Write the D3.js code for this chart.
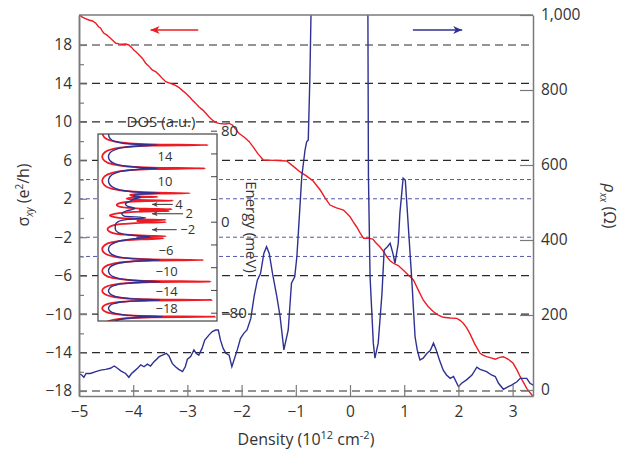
<!DOCTYPE html>
<html lang="en">

<head>
    <meta charset="UTF-8">
    <title>Hall conductivity and resistivity vs density</title>
    <style>
        body {
            margin: 0;
            background: #fff;
        }

        svg text {
            font-family: "Open Sans", sans-serif;
            fill: #333;
        }
    </style>
</head>

<body>
    <div id="chart"></div>

    <script src="https://d3js.org/d3.v7.min.js"></script>
    <script>

        // ---- main panel data ----
        var densityTicks = [-5, -4, -3, -2, -1, 0, 1, 2, 3]
        var sigmaTicks = [18, 14, 10, 6, 2, -2, -6, -10, -14, -18]
        var sigmaMinor = [16, 12, 8, 4, 0, -4, -8, -12, -16]
        var sigmaDashed = [18, 14, 10, 6, -6, -10, -14, -18]
        var sigmaDotted = [4, 2, -2, -4]
        var rhoTicks = [0, 200, 400, 600, 800, 1000]

        // sigma_xy (e^2/h) vs density (10^12 cm^-2)
        var sigmaCurve = [
            [-5.00, 21.2], [-4.94, 20.9], [-4.88, 20.75], [-4.82, 20.6], [-4.75, 20.5], [-4.69, 20.26],
            [-4.64, 19.9], [-4.60, 19.74], [-4.57, 19.45], [-4.54, 19.22], [-4.49, 19.05], [-4.45, 18.86],
            [-4.38, 18.5], [-4.32, 18.18], [-4.26, 18.12], [-4.20, 18.07], [-4.14, 18.1], [-4.08, 18.0],
            [-4.03, 17.75], [-3.99, 17.48], [-3.94, 17.25], [-3.89, 16.96], [-3.83, 16.6], [-3.77, 16.10],
            [-3.71, 15.8], [-3.65, 15.40], [-3.58, 15.2], [-3.52, 14.88], [-3.46, 14.5], [-3.40, 14.18],
            [-3.34, 14.05], [-3.28, 13.94], [-3.22, 13.8], [-3.16, 13.60], [-3.09, 13.25], [-3.03, 12.97],
            [-2.97, 12.65], [-2.91, 12.28], [-2.85, 11.95], [-2.79, 11.58], [-2.72, 11.25], [-2.66, 10.89],
            [-2.60, 10.5], [-2.54, 10.20], [-2.48, 9.95], [-2.42, 9.85], [-2.35, 9.8], [-2.29, 9.78],
            [-2.23, 9.84], [-2.17, 9.68], [-2.11, 9.25], [-2.05, 8.81], [-1.95, 8.4], [-1.86, 7.94],
            [-1.79, 7.42], [-1.70, 6.7], [-1.60, 6.03], [-1.40, 6.0], [-1.17, 5.93], [-1.05, 5.4],
            [-0.92, 4.79], [-0.80, 4.35], [-0.68, 3.85], [-0.55, 2.91], [-0.46, 2.1], [-0.37, 1.35],
            [-0.25, 1.05], [-0.12, 0.83], [0.00, 0.14], [0.06, -0.4], [0.12, -0.91], [0.18, -1.5],
            [0.25, -2.11], [0.33, -2.1], [0.42, -2.19], [0.48, -2.6], [0.55, -2.99], [0.62, -3.5],
            [0.68, -4.03], [0.74, -4.45], [0.80, -4.71], [0.89, -4.95], [0.98, -5.41], [1.07, -5.9],
            [1.17, -6.45], [1.26, -7.5], [1.35, -8.53], [1.44, -9.2], [1.54, -9.75], [1.63, -10.1],
            [1.72, -10.33], [1.85, -10.4], [1.97, -10.44], [2.03, -10.65], [2.09, -10.96], [2.15, -11.4],
            [2.21, -12.0], [2.30, -13.1], [2.40, -14.08], [2.46, -14.3], [2.52, -14.43], [2.60, -14.55],
            [2.68, -14.70], [2.76, -14.5], [2.83, -14.43], [2.92, -14.7], [3.01, -15.12], [3.08, -15.8],
            [3.14, -16.51], [3.20, -17.1], [3.26, -17.72], [3.38, -18.6]
        ]

        // rho_xx (Ohm) vs density
        var rhoCurve = [
            [-5.00, 44], [-4.95, 40], [-4.91, 34], [-4.87, 44], [-4.79, 44], [-4.69, 49], [-4.60, 53],
            [-4.51, 55], [-4.42, 58], [-4.35, 64], [-4.29, 58], [-4.23, 51], [-4.14, 44], [-4.08, 34],
            [-4.03, 44], [-3.99, 49], [-3.92, 58], [-3.86, 67], [-3.80, 62], [-3.74, 69], [-3.68, 64],
            [-3.62, 75], [-3.52, 89], [-3.46, 93], [-3.39, 98], [-3.34, 91], [-3.28, 71], [-3.22, 62],
            [-3.16, 55], [-3.09, 49], [-3.04, 62], [-3.00, 82], [-2.94, 89], [-2.88, 107], [-2.84, 98],
            [-2.79, 93], [-2.73, 111], [-2.68, 133], [-2.60, 147], [-2.54, 156], [-2.48, 160], [-2.43, 160],
            [-2.39, 133], [-2.34, 111], [-2.29, 98], [-2.23, 93], [-2.18, 62], [-2.14, 80], [-2.08, 107],
            [-2.02, 138], [-1.96, 151], [-1.90, 160], [-1.83, 191], [-1.77, 249], [-1.71, 293], [-1.65, 311],
            [-1.59, 364], [-1.54, 382], [-1.49, 364], [-1.43, 311], [-1.35, 249], [-1.29, 196], [-1.22, 107],
            [-1.14, 160], [-1.08, 285], [-1.02, 302], [-0.98, 356], [-0.89, 569], [-0.83, 640], [-0.80, 662],
            [-0.77, 667], [-0.74, 836], [-0.72, 1000], [-0.70, 1150], [0.31, 1150], [0.33, 1000], [0.34, 569],
            [0.37, 302], [0.43, 125], [0.46, 85], [0.52, 125], [0.59, 258], [0.63, 373], [0.69, 382],
            [0.74, 391], [0.79, 365], [0.83, 338], [0.89, 391], [0.92, 471], [0.98, 565], [1.02, 560],
            [1.08, 427], [1.14, 293], [1.20, 142], [1.24, 107], [1.29, 80], [1.35, 85], [1.42, 98],
            [1.48, 105], [1.54, 125], [1.59, 107], [1.65, 80], [1.72, 53], [1.78, 40], [1.85, 31],
            [1.91, 36], [2.00, 9], [2.06, 18], [2.15, 27], [2.25, 40], [2.34, 61], [2.40, 55], [2.52, 49],
            [2.61, 40], [2.68, 36], [2.74, 18], [2.83, 2], [2.92, 9], [2.98, 13], [3.08, 22], [3.14, 31],
            [3.26, 31], [3.32, 18], [3.38, 13]
        ]

        // ---- inset data: DOS (a.u.) vs energy (meV) ----
        var insetEnergyTicks = [80, 60, 40, 20, 0, -20, -40, -60, -80]
        var insetEnergyLabels = [80, 0, -80]
        var levelText = ["14", "10", "4", "2", "\u22122", "\u22126", "\u221210", "\u221214", "\u221218"]
        var levelEnergy = [57, 35.8, 15.2, 7.0, -7.0, -25, -43.3, -60.9, -76.1]
        var levelDos = [0.563, 0.563, 0.68, 0.767, 0.754, 0.571, 0.577, 0.577, 0.577]
        var arrowEnergy = [15.2, 7.0, -7.0]
        var arrowFrom = [0.628, 0.714, 0.661]
        var arrowTo = 0.454

        var dosRed = [
            [78, 0.035], [74.0, 0.055], [71.1, 0.12], [69.0, 0.25], [68.0, 0.45], [67.4, 0.924],
            [66.8, 0.45], [65.8, 0.25], [63.7, 0.12], [60.8, 0.055], [57.15, 0.035], [53.5, 0.055], [50.6, 0.12], [48.5, 0.25], [47.5, 0.45], [46.9, 0.90],
            [46.3, 0.45], [45.2, 0.25], [43.0, 0.12], [39.9, 0.055], [36.0, 0.035], [32.0, 0.055], [28.9, 0.12], [26.8, 0.25], [25.7, 0.45], [25.0, 0.773],
            [24.6, 0.40], [23.6, 0.27], [22.6, 0.30], [22.1, 0.40], [21.8, 0.50],
            [21.4, 0.32], [20.4, 0.24], [19.3, 0.30], [18.9, 0.42], [18.5, 0.63],
            [18.1, 0.40], [17.3, 0.25], [15.9, 0.17], [14.8, 0.157], [13.6, 0.17], [12.2, 0.25], [11.4, 0.40], [11.0, 0.62],
            [10.5, 0.35], [9.8, 0.35], [9.3, 0.60],
            [8.9, 0.38], [8.0, 0.22], [6.7, 0.13], [5.5, 0.10], [4.3, 0.13], [3.0, 0.22], [2.1, 0.38], [1.6, 0.57],
            [1.1, 0.33], [0.1, 0.33], [-0.4, 0.57],
            [-0.9, 0.40], [-1.9, 0.22], [-3.4, 0.12], [-6.6, 0.08], [-9.8, 0.12], [-11.3, 0.22], [-12.3, 0.40], [-12.8, 0.57],
            [-13.3, 0.33], [-14.1, 0.33], [-14.6, 0.55],
            [-15.2, 0.45], [-16.2, 0.25], [-18.0, 0.12], [-20.7, 0.055], [-24.15, 0.035], [-27.6, 0.055], [-30.3, 0.12], [-32.1, 0.25], [-33.1, 0.45], [-33.7, 0.885],
            [-34.3, 0.45], [-35.2, 0.25], [-37.1, 0.12], [-39.8, 0.055], [-43.2, 0.035], [-46.6, 0.055], [-49.3, 0.12], [-51.2, 0.25], [-52.1, 0.45], [-52.7, 0.947],
            [-53.2, 0.45], [-54.0, 0.25], [-55.6, 0.12], [-57.9, 0.055], [-60.75, 0.035], [-63.6, 0.055], [-65.9, 0.12], [-67.5, 0.25], [-68.3, 0.45], [-68.8, 0.955],
            [-69.3, 0.45], [-70.0, 0.25], [-71.4, 0.12], [-73.5, 0.055], [-76.15, 0.035], [-78.8, 0.055], [-80.9, 0.12], [-82.3, 0.25], [-83.0, 0.45], [-83.5, 0.983],
            [-84.0, 0.45], [-84.9, 0.25], [-86.5, 0.12], [-89, 0.06]
        ]

        var dosBlue = [
            [78, 0.09], [76, 0.09], [73.4, 0.10], [70.6, 0.14], [68.8, 0.22], [67.9, 0.35], [67.4, 0.50],
            [66.6, 0.35], [65.3, 0.22], [63.2, 0.14], [60.5, 0.10], [57.15, 0.088], [53.8, 0.10], [51.1, 0.14], [49.0, 0.22], [47.7, 0.35], [46.9, 0.50],
            [46.1, 0.35], [44.8, 0.22], [42.5, 0.14], [39.5, 0.10], [36.0, 0.088], [32.5, 0.10], [29.5, 0.14], [27.2, 0.22], [25.8, 0.35], [25.0, 0.52],
            [24.2, 0.35], [22.8, 0.30], [21.5, 0.36], [20.0, 0.30], [18.5, 0.28], [16.5, 0.24], [15.6, 0.23], [13.5, 0.25],
            [11.5, 0.31], [9.5, 0.24], [7.0, 0.20], [5.0, 0.22], [3.5, 0.40], [2.0, 0.25], [0.0, 0.17], [-3.0, 0.145],
            [-6.4, 0.145], [-9.5, 0.17], [-11.5, 0.25], [-13.5, 0.44], [-15.0, 0.30],
            [-16.5, 0.20], [-18.5, 0.14], [-21.0, 0.10], [-24.15, 0.088], [-27.3, 0.10], [-29.9, 0.14], [-31.8, 0.22], [-32.9, 0.35], [-33.7, 0.52],
            [-34.5, 0.35], [-35.7, 0.22], [-37.6, 0.14], [-40.1, 0.10], [-43.2, 0.088], [-46.3, 0.10], [-48.8, 0.14], [-50.7, 0.22], [-51.9, 0.35], [-52.7, 0.52],
            [-53.4, 0.35], [-54.4, 0.22], [-56.0, 0.14], [-58.2, 0.10], [-60.75, 0.088], [-63.3, 0.10], [-65.5, 0.14], [-67.1, 0.22], [-68.1, 0.35], [-68.8, 0.52],
            [-69.4, 0.35], [-70.4, 0.22], [-71.8, 0.14], [-73.8, 0.10], [-76.15, 0.088], [-78.5, 0.10], [-80.5, 0.14], [-81.9, 0.22], [-82.9, 0.35], [-83.5, 0.54],
            [-84.2, 0.35], [-85.3, 0.22], [-87.0, 0.15], [-89, 0.12]
        ]

        var red = "#ed1c24"
        var blue = "#2e3192"
        var axisGrey = "#7a7a7a"

        // set the dimensions of the graph
        var width = 633
        var height = 450
        var plotLeft = 79, plotRight = 533, plotTop = 15, plotBottom = 396

        var svg = d3.select("#chart")
            .append("svg")
            .attr("width", width)
            .attr("height", height)

        var x = d3.scaleLinear().domain([-5, 3.376]).range([plotLeft, plotRight])
        var ySigma = d3.scaleLinear().domain([-18.52, 21.12]).range([plotBottom, plotTop])
        var yRho = d3.scaleLinear().domain([-16, 1000]).range([plotBottom, plotTop])

        var defs = svg.append("defs")
        defs.append("clipPath").attr("id", "plotClip")
            .append("rect")
            .attr("x", plotLeft).attr("y", plotTop)
            .attr("width", plotRight - plotLeft).attr("height", plotBottom - plotTop)

        // arrow heads
        var heads = [["redHead", red, 9, 8], ["blueHead", blue, 9, 8], ["greyHead", "#444", 6, 5]]
        heads.forEach(function (m) {
            defs.append("marker")
                .attr("id", m[0])
                .attr("viewBox", "0 0 9 8")
                .attr("refX", 9).attr("refY", 4)
                .attr("markerUnits", "userSpaceOnUse")
                .attr("markerWidth", m[2])
                .attr("markerHeight", m[3])
                .attr("orient", "auto")
                .append("path")
                .attr("d", "M0,0 L9,4 L0,8 L2.5,4 Z")
                .attr("fill", m[1])
        })

        // horizontal reference lines
        svg.selectAll("dashLines")
            .data(sigmaDashed)
            .enter()
            .append("line")
            .attr("x1", plotLeft).attr("x2", plotRight)
            .attr("y1", function (d) { return ySigma(d) })
            .attr("y2", function (d) { return ySigma(d) })
            .attr("stroke", "#2a2a2a")
            .attr("stroke-width", 1.2)
            .attr("stroke-dasharray", "8,5")

        svg.selectAll("dotLines")
            .data(sigmaDotted)
            .enter()
            .append("line")
            .attr("x1", plotLeft).attr("x2", plotRight)
            .attr("y1", function (d) { return ySigma(d) })
            .attr("y2", function (d) { return ySigma(d) })
            .attr("stroke", "#5558a8")
            .attr("stroke-width", 1)
            .attr("stroke-dasharray", "4,3")

        // curves
        var plot = svg.append("g").attr("clip-path", "url(#plotClip)")

        plot.append("path")
            .datum(sigmaCurve)
            .attr("fill", "none")
            .attr("stroke", red)
            .attr("stroke-width", 1.4)
            .attr("d", d3.line()
                .x(function (d) { return x(d[0]) })
                .y(function (d) { return ySigma(d[1]) }))

        plot.append("path")
            .datum(rhoCurve)
            .attr("fill", "none")
            .attr("stroke", blue)
            .attr("stroke-width", 1.4)
            .attr("d", d3.line()
                .x(function (d) { return x(d[0]) })
                .y(function (d) { return yRho(d[1]) }))

        // direction arrows
        svg.append("line")
            .attr("x1", x(-2.80)).attr("x2", x(-3.68))
            .attr("y1", ySigma(19.56)).attr("y2", ySigma(19.56))
            .attr("stroke", red).attr("stroke-width", 1.5)
            .attr("marker-end", "url(#redHead)")

        svg.append("line")
            .attr("x1", x(1.16)).attr("x2", x(2.07))
            .attr("y1", ySigma(19.56)).attr("y2", ySigma(19.56))
            .attr("stroke", blue).attr("stroke-width", 1.5)
            .attr("marker-end", "url(#blueHead)")

        // axes
        function styleAxis(g) {
            g.select(".domain").attr("stroke", axisGrey).attr("stroke-width", 1.5)
            g.selectAll(".tick line").attr("stroke", axisGrey).attr("stroke-width", 1.2)
            g.selectAll("text").style("font-size", "15.5px").attr("fill", "#333")
        }

        svg.append("g")
            .attr("transform", "translate(" + plotLeft + ",0)")
            .call(d3.axisLeft(ySigma).tickValues(sigmaMinor).tickSizeInner(-5).tickSizeOuter(0).tickFormat(""))
            .call(styleAxis)

        svg.append("g")
            .attr("transform", "translate(" + plotLeft + ",0)")
            .call(d3.axisLeft(ySigma).tickValues(sigmaTicks).tickSizeInner(-8).tickSizeOuter(0).tickPadding(7))
            .call(styleAxis)

        svg.append("g")
            .attr("transform", "translate(" + plotRight + ",0)")
            .call(d3.axisRight(yRho).tickValues(rhoTicks).tickSizeInner(-13).tickSizeOuter(0).tickPadding(8)
                .tickFormat(d3.format(",")))
            .call(styleAxis)

        svg.append("g")
            .attr("transform", "translate(0," + plotBottom + ")")
            .call(d3.axisBottom(x).tickValues(densityTicks).tickSizeInner(-11).tickSizeOuter(0).tickPadding(10))
            .call(styleAxis)

        svg.append("line")
            .attr("x1", plotLeft).attr("x2", plotRight)
            .attr("y1", plotTop).attr("y2", plotTop)
            .attr("stroke", axisGrey).attr("stroke-width", 1.5)

        // axis titles
        var xTitle = svg.append("text")
            .attr("x", 306).attr("y", 445)
            .attr("text-anchor", "middle")
            .style("font-size", "16px")
        xTitle.append("tspan").text("Density (10")
        xTitle.append("tspan").attr("dy", -6).style("font-size", "11px").text("12")
        xTitle.append("tspan").attr("dy", 6).text(" cm")
        xTitle.append("tspan").attr("dy", -6).style("font-size", "11px").text("-2")
        xTitle.append("tspan").attr("dy", 6).text(")")

        var yTitle = svg.append("text")
            .attr("transform", "translate(29,195) rotate(-90)")
            .attr("text-anchor", "middle")
            .style("font-size", "16px")
        yTitle.append("tspan").text("\u03c3")
        yTitle.append("tspan").attr("dy", 4).style("font-size", "10px").style("font-style", "italic").text("xy")
        yTitle.append("tspan").attr("dy", -4).text(" (e")
        yTitle.append("tspan").attr("dy", -6).style("font-size", "10px").text("2")
        yTitle.append("tspan").attr("dy", 6).text("/h)")

        var rTitle = svg.append("text")
            .attr("transform", "translate(604,206) rotate(90)")
            .attr("text-anchor", "middle")
            .style("font-size", "16px")
        rTitle.append("tspan").style("font-style", "italic").text("\u03c1")
        rTitle.append("tspan").attr("dy", 4).style("font-size", "10px").style("font-style", "italic").text("xx")
        rTitle.append("tspan").attr("dy", -4).text(" (\u03a9)")

        // ---- inset ----
        var iLeft = 98, iRight = 217, iTop = 134, iBottom = 321
        var xDos = d3.scaleLinear().domain([0, 1]).range([iLeft, iRight])
        var yE = d3.scaleLinear().domain([-87.3, 77.1]).range([iBottom, iTop])

        defs.append("clipPath").attr("id", "insetClip")
            .append("rect")
            .attr("x", iLeft).attr("y", iTop)
            .attr("width", iRight - iLeft).attr("height", iBottom - iTop)

        svg.append("rect")
            .attr("x", iLeft).attr("y", iTop)
            .attr("width", iRight - iLeft).attr("height", iBottom - iTop)
            .attr("fill", "#fff")

        var dosLine = d3.line()
            .curve(d3.curveMonotoneY)
            .x(function (d) { return xDos(d[1]) })
            .y(function (d) { return yE(d[0]) })

        var inset = svg.append("g").attr("clip-path", "url(#insetClip)")
        inset.append("path").datum(dosRed)
            .attr("fill", "none").attr("stroke", red).attr("stroke-width", 1.8)
            .attr("d", dosLine)
        inset.append("path").datum(dosBlue)
            .attr("fill", "none").attr("stroke", blue).attr("stroke-width", 1.4)
            .attr("d", dosLine)

        svg.append("g")
            .attr("transform", "translate(" + iRight + ",0)")
            .call(d3.axisRight(yE).tickValues(insetEnergyTicks).tickSizeInner(-6).tickSizeOuter(0).tickFormat(""))
            .call(function (g) {
                g.select(".domain").remove()
                g.selectAll(".tick line").attr("stroke", "#444")
            })

        svg.append("rect")
            .attr("x", iLeft).attr("y", iTop)
            .attr("width", iRight - iLeft).attr("height", iBottom - iTop)
            .attr("fill", "none").attr("stroke", "#444").attr("stroke-width", 1.2)

        svg.selectAll("insetLabels")
            .data(insetEnergyLabels)
            .enter()
            .append("text")
            .attr("x", iRight + 4)
            .attr("y", function (d) { return yE(d) })
            .attr("dy", "0.35em")
            .style("font-size", "15px")
            .text(function (d) { return d3.format("")(d) })

        svg.selectAll("levelLabels")
            .data(levelText)
            .enter()
            .append("text")
            .attr("x", function (d, i) { return xDos(levelDos[i]) })
            .attr("y", function (d, i) { return yE(levelEnergy[i]) })
            .attr("dy", "0.35em")
            .attr("text-anchor", "middle")
            .style("font-size", "13px")
            .text(function (d) { return d })

        svg.selectAll("levelArrows")
            .data(arrowEnergy)
            .enter()
            .append("line")
            .attr("x1", function (d, i) { return xDos(arrowFrom[i]) })
            .attr("x2", xDos(arrowTo))
            .attr("y1", function (d) { return yE(d) })
            .attr("y2", function (d) { return yE(d) })
            .attr("stroke", "#444").attr("stroke-width", 1.1)
            .attr("marker-end", "url(#greyHead)")

        svg.append("text")
            .attr("x", 161).attr("y", 127)
            .attr("text-anchor", "middle")
            .style("font-size", "15px")
            .text("DOS (a.u.)")

        svg.append("text")
            .attr("transform", "translate(246,227) rotate(90)")
            .attr("text-anchor", "middle")
            .style("font-size", "15px")
            .text("Energy (meV)")

    </script>

</body>

</html>
